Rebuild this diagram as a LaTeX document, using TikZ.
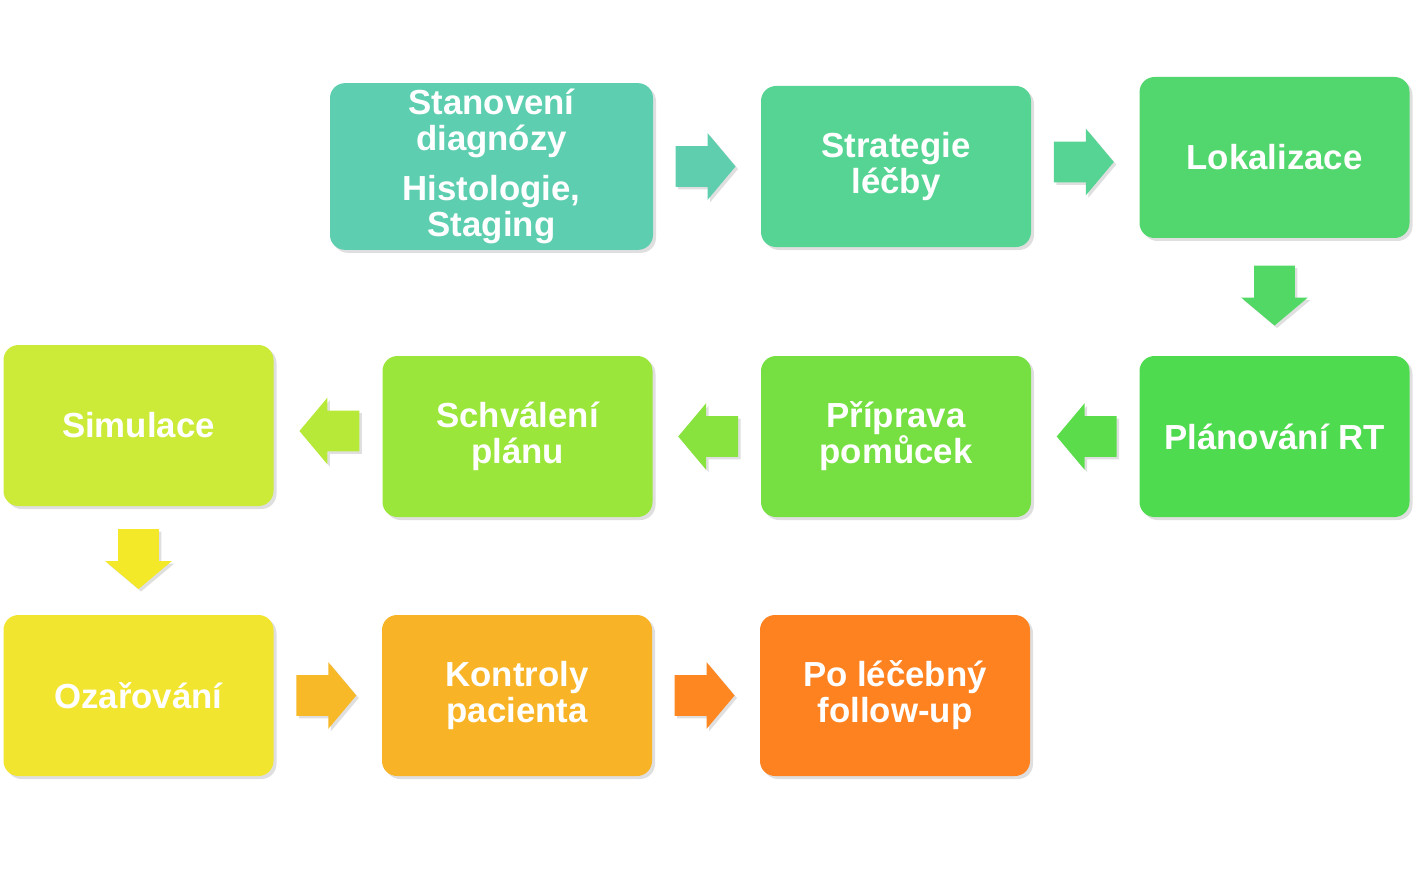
\documentclass[tikz,border=0pt]{standalone}
\usepackage{fontspec}
\setmainfont{Liberation Sans}
\usetikzlibrary{shapes.arrows}
\usetikzlibrary{shadows}
\usetikzlibrary{calc}

\definecolor{cDiag}{HTML}{5ECEB0}
\definecolor{cStrat}{HTML}{55D494}
\definecolor{cLok}{HTML}{52D76E}
\definecolor{cPlan}{HTML}{4FDB4F}
\definecolor{cPrip}{HTML}{76E042}
\definecolor{cSchv}{HTML}{9AE63A}
\definecolor{cSim}{HTML}{CBEB38}
\definecolor{cOzar}{HTML}{F2E52F}
\definecolor{cKontr}{HTML}{F8B426}
\definecolor{cFollow}{HTML}{FF8221}

\tikzset{
  stagebox/.style={rectangle,rounded corners=0.3cm,minimum width=5.4cm,minimum height=3.22cm,
    text=white,font=\fontsize{19.8}{20.5}\selectfont\bfseries,align=center,
    drop shadow={shadow xshift=0.06cm,shadow yshift=-0.06cm,opacity=0.25}},
  blockarrow/.style={single arrow,minimum height=1.2cm,text height=0.4cm,text depth=0.4cm,
    single arrow head extend=0.26cm,single arrow tip angle=100,inner sep=0pt,
    rotate=#1,xshift=-0.2cm,
    drop shadow={shadow xshift=0.05cm,shadow yshift=-0.05cm,opacity=0.25}},
  blockarrow/.default=0
}

\begin{document}
\begin{tikzpicture}
\useasboundingbox (0,0) rectangle (28.38,17.48);

\node[stagebox,fill=cDiag,minimum width=6.46cm] (diag) at (9.83,14.15)
  {Stanovení\\diagnózy\\[8pt]Histologie,\\Staging};
\node[stagebox,fill=cStrat] (strat) at (17.92,14.15) {Strategie\\léčby};
\node[stagebox,fill=cLok] (lok) at (25.49,14.33) {Lokalizace};

\node[stagebox,fill=cPlan] (plan) at (25.49,8.75) {Plánování RT};
\node[stagebox,fill=cPrip] (prip) at (17.92,8.75) {Příprava\\pomůcek};
\node[stagebox,fill=cSchv] (schv) at (10.35,8.75) {Schválení\\plánu};
\node[stagebox,fill=cSim] (sim) at (2.77,8.97) {Simulace};

\node[stagebox,fill=cOzar] (ozar) at (2.77,3.57) {Ozařování};
\node[stagebox,fill=cKontr] (kontr) at (10.34,3.57) {Kontroly\\pacienta};
\node[stagebox,fill=cFollow] (follow) at (17.9,3.57) {Po léčebný\\follow-up};

\node[blockarrow,fill=cDiag!95!cStrat] (a1) at ($(diag.east)!0.5!(strat.west)$) {};
\node[blockarrow,fill=cStrat] (a2) at ($(strat.east)!0.5!(lok.west)$) {};
\node[blockarrow=270,fill=cLok!70!cPlan] (a3) at ($(lok.south)!0.5!(plan.north)$) {};
\node[blockarrow=180,fill=cPlan!70!cPrip] (a4) at ($(plan.west)!0.5!(prip.east)$) {};
\node[blockarrow=180,fill=cPrip!50!cSchv] (a5) at ($(prip.west)!0.5!(schv.east)$) {};
\node[blockarrow=180,fill=cSchv!40!cSim] (a6) at ($(schv.west)!0.5!(sim.east)$) {};
\node[blockarrow=270,fill=cOzar!85!yellow] (a7) at ($(sim.south)!0.5!(ozar.north)$) {};
\node[blockarrow,fill=cKontr!90!cOzar] (a8) at ($(ozar.east)!0.5!(kontr.west)$) {};
\node[blockarrow,fill=cFollow!90!cKontr] (a9) at ($(kontr.east)!0.5!(follow.west)$) {};

\end{tikzpicture}
\end{document}
